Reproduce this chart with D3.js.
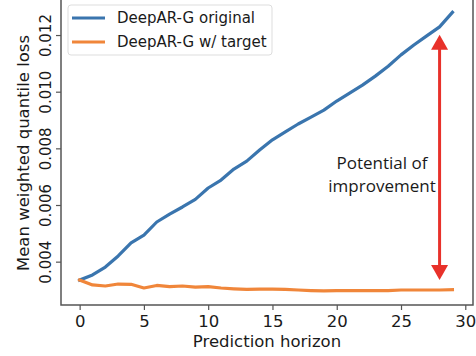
<!DOCTYPE html>
<html>
<head>
<meta charset="utf-8">
<script src="https://cdn.jsdelivr.net/npm/d3@7"></script>
<style>
  body { margin: 0; background: #fff; }
  text { font-family: "DejaVu Sans", sans-serif; fill: #1a1a1a; }
</style>
</head>
<body>
<div id="chart"></div>
<script>
// horizon steps and the two loss curves
var horizon = d3.range(0, 30);
var original = [0.00335, 0.00353, 0.00381, 0.0042, 0.00466, 0.00494, 0.0054, 0.00568, 0.00593, 0.0062,
                0.0066, 0.00688, 0.00727, 0.00755, 0.00794, 0.0083, 0.00858, 0.00886, 0.0091, 0.00935,
                0.00967, 0.00995, 0.01023, 0.01055, 0.0109, 0.0113, 0.01165, 0.01197, 0.01229, 0.0128];
var withTarget = [0.00335, 0.00318, 0.00314, 0.00321, 0.0032, 0.00307, 0.00316, 0.00312, 0.00314, 0.0031,
                  0.00312, 0.00307, 0.00304, 0.00302, 0.00303, 0.00303, 0.00302, 0.003, 0.00298, 0.00297,
                  0.00298, 0.00298, 0.00298, 0.00298, 0.00298, 0.003, 0.003, 0.003, 0.003, 0.00301];
var seriesNames = ["DeepAR-G original", "DeepAR-G w/ target"];
var xTicks = [0, 5, 10, 15, 20, 25, 30];
var yTicks = [0.004, 0.006, 0.008, 0.010, 0.012];
var arrowAt = 28;   // horizon where the gap arrow sits
var noteLines = ["Potential of", "improvement"];

var width = 476, height = 356;
var margin = { top: -10, right: 3, bottom: 51, left: 61 };

var svg = d3.select("#chart")
  .append("svg")
    .attr("width", width)
    .attr("height", height);

var x = d3.scaleLinear()
  .domain([-1.45, 30.6])
  .range([margin.left, width - margin.right]);

var y = d3.scaleLinear()
  .domain([0.00247, 0.01359])
  .range([height - margin.bottom, margin.top]);

var colors = ["#3a75ae", "#f0863a"];

// frame (left, bottom, right spines; top is cut off)
var frame = svg.append("g");
frame.append("path")
  .attr("fill", "none")
  .attr("stroke", "#555")
  .attr("stroke-width", 1.5)
  .attr("d", "M" + x.range()[0] + "," + y.range()[1] + "V" + y.range()[0] +
             "H" + x.range()[1] + "V" + y.range()[1]);

// X axis
var xAxis = svg.append("g")
  .attr("transform", "translate(0," + y.range()[0] + ")")
  .call(d3.axisBottom(x).tickValues(xTicks).tickSize(5).tickPadding(5).tickFormat(d3.format("d")));
xAxis.select(".domain").remove();
xAxis.selectAll(".tick line").attr("stroke", "#555").attr("stroke-width", 1.2);
xAxis.selectAll("text").style("font-size", "16.5px").attr("fill", "#1a1a1a");

// Y axis with rotated labels
var yAxis = svg.append("g")
  .attr("transform", "translate(" + x.range()[0] + ",0)")
  .call(d3.axisLeft(y).tickValues(yTicks).tickSize(5).tickFormat(d3.format(".3f")));
yAxis.select(".domain").remove();
yAxis.selectAll(".tick line").attr("stroke", "#555").attr("stroke-width", 1.2);
yAxis.selectAll("text")
  .attr("x", null).attr("dy", null)
  .attr("text-anchor", "middle")
  .attr("transform", "translate(-10,0) rotate(-90)")
  .style("font-size", "15px")
  .attr("fill", "#1a1a1a");

// axis titles
svg.append("text")
  .attr("x", (x.range()[0] + x.range()[1]) / 2)
  .attr("y", 347)
  .attr("text-anchor", "middle")
  .style("font-size", "16.5px")
  .text("Prediction horizon");

svg.append("text")
  .attr("transform", "translate(29," + 153 + ") rotate(-90)")
  .attr("text-anchor", "middle")
  .style("font-size", "16.5px")
  .text("Mean weighted quantile loss");

// lines
var line = d3.line()
  .x((d, i) => x(horizon[i]))
  .y((d) => y(d));

[original, withTarget].forEach((s, k) => {
  svg.append("path")
    .datum(s)
    .attr("fill", "none")
    .attr("stroke", colors[k])
    .attr("stroke-width", 3.2)
    .attr("stroke-linecap", "square")
    .attr("stroke-linejoin", "round")
    .attr("d", line);
});

// gap arrow
var red = "#e8312a";
var ax = x(arrowAt);
var yTop = y(original[arrowAt]) + 8, yBot = y(withTarget[arrowAt]) - 10;
var head = 15, half = 8.5;
svg.append("line")
  .attr("x1", ax).attr("x2", ax)
  .attr("y1", yTop + head - 2).attr("y2", yBot - head + 2)
  .attr("stroke", red)
  .attr("stroke-width", 3);
svg.append("path")
  .attr("fill", red)
  .attr("d", "M" + ax + "," + yTop + "L" + (ax + half) + "," + (yTop + head) + "L" + (ax - half) + "," + (yTop + head) + "Z");
svg.append("path")
  .attr("fill", red)
  .attr("d", "M" + ax + "," + yBot + "L" + (ax + half) + "," + (yBot - head) + "L" + (ax - half) + "," + (yBot - head) + "Z");

// annotation text
svg.append("text")
  .attr("x", 382)
  .attr("y", 169)
  .attr("text-anchor", "middle")
  .style("font-family", "'Open Sans', sans-serif")
  .style("font-size", "17px")
  .attr("fill", "#000")
  .selectAll("tspan")
  .data(noteLines)
  .join("tspan")
    .attr("x", 382)
    .attr("dy", (d, i) => i === 0 ? 0 : 23)
    .text((d) => d);

// legend
var legend = svg.append("g").attr("transform", "translate(68,5)");
legend.append("rect")
  .attr("width", 204).attr("height", 50)
  .attr("rx", 3)
  .attr("fill", "#fff")
  .attr("stroke", "#ddd");
seriesNames.forEach((name, k) => {
  legend.append("line")
    .attr("x1", 4).attr("x2", 37)
    .attr("y1", 13 + k * 24).attr("y2", 13 + k * 24)
    .attr("stroke", colors[k])
    .attr("stroke-width", 3.2);
  legend.append("text")
    .attr("x", 49)
    .attr("y", 18 + k * 24)
    .style("font-size", "15px")
    .text(name);
});
</script>
</body>
</html>
